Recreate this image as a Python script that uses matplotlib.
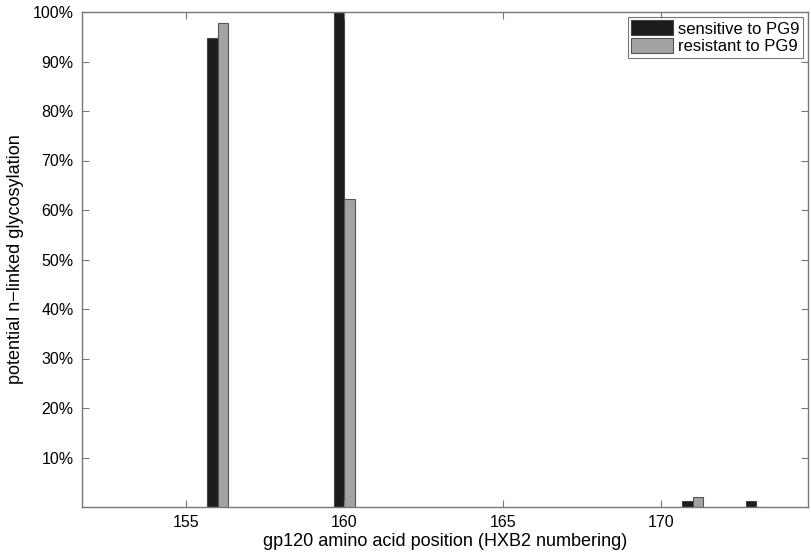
import matplotlib
matplotlib.use("Agg")
import matplotlib.pyplot as plt
import numpy as np
from matplotlib.ticker import FuncFormatter

# values (fraction of sequences with a PNGS)
positions = [156, 160, 171, 173]
sensitive = [94.7, 100.0, 1.2, 1.2]
resistant = [97.7, 62.2, 2.0, 0.0]
series_names = ["sensitive to PG9", "resistant to PG9"]
x_ticks = [155, 160, 165, 170]
y_ticks = [10, 20, 30, 40, 50, 60, 70, 80, 90, 100]

plt.rcParams["font.family"] = ["Liberation Sans", "DejaVu Sans"]

fig = plt.figure(figsize=(8.12, 5.52), dpi=100)
ax = fig.add_axes([82 / 812, 45 / 552, 726 / 812, 495 / 552])

pos = np.array(positions)
w = 0.33
ax.bar(pos - w / 2, sensitive, w, color="#1c1c1c", edgecolor="#444444",
       linewidth=0.8, label=series_names[0])
ax.bar(pos + w / 2, resistant, w, color="#a3a3a3", edgecolor="#555555",
       linewidth=0.8, label=series_names[1])

ax.set_xlim(151.72, 174.64)
ax.set_ylim(0, 100)
ax.set_xticks(x_ticks)
ax.set_yticks(y_ticks)
ax.yaxis.set_major_formatter(FuncFormatter(lambda v, p: f"{v:.0f}%"))
ax.tick_params(direction="in", length=5, color="#777777", labelsize=11.5,
               top=True, right=True, pad=6)
for s in ax.spines.values():
    s.set_color("#777777")
    s.set_linewidth(1.0)

ax.set_xlabel("gp120 amino acid position (HXB2 numbering)", fontsize=13, labelpad=2)
ax.set_ylabel("potential n\u2212linked glycosylation", fontsize=13, labelpad=6)

leg = ax.legend(loc="upper right", fontsize=12, frameon=True, fancybox=False,
                borderaxespad=0.3, handlelength=2.5, handleheight=1.0,
                borderpad=0.2, labelspacing=0.1, handletextpad=0.3)
leg.get_frame().set_edgecolor("#555555")
leg.get_frame().set_linewidth(0.8)

fig.savefig("out.png", dpi=100)
